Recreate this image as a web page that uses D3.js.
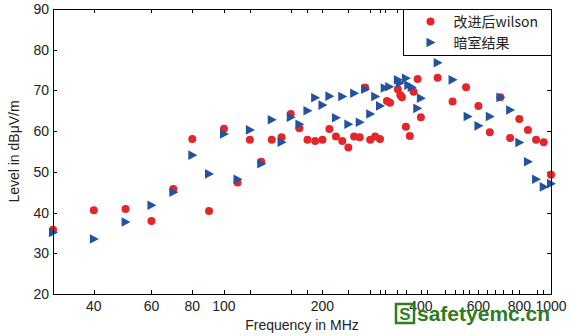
<!DOCTYPE html>
<html>
<head>
<meta charset="utf-8">
<script src="https://cdn.jsdelivr.net/npm/d3@7"></script>
<style>
  body { margin: 0; background: #fff; }
  svg { display: block; font-family: "Liberation Sans", Arial, sans-serif; }
</style>
</head>
<body>
<div id="chart"></div>
<script>
// data
const freqRed = [30, 40, 50, 60, 70, 80, 90, 100, 110, 120, 130, 140, 150, 160, 170, 180, 190, 200,
  210, 220, 230, 240, 250, 260, 270, 280, 290, 300, 315, 322, 340, 346, 350, 360, 370, 380, 391, 400,
  450, 500, 550, 600, 650, 700, 750, 800, 850, 900, 950, 1000];
const levelRed = [35.8, 40.6, 40.9, 37.9, 45.8, 58.1, 40.4, 60.6, 47.4, 57.9, 52.5, 57.9, 58.5, 64.2, 60.7, 57.9, 57.6, 57.9,
  60.5, 58.7, 57.6, 56.0, 58.7, 58.5, 70.7, 57.9, 58.7, 58.1, 67.4, 67.0, 70.3, 68.9, 68.3, 61.1, 58.8, 69.7, 72.8, 63.4,
  73.1, 67.3, 70.8, 66.2, 59.7, 68.3, 58.3, 63.0, 60.3, 57.9, 57.3, 49.3];

const freqBlue = [30, 40, 50, 60, 70, 80, 90, 100, 110, 120, 130, 140, 150, 160, 170, 180, 190, 200,
  210, 220, 230, 240, 250, 260, 270, 280, 290, 300, 310, 320, 340, 345, 360, 366, 375, 390, 400,
  450, 500, 556, 600, 650, 700, 750, 800, 850, 900, 950, 1000];
const levelBlue = [35.1, 33.5, 37.7, 41.8, 45.0, 54.1, 49.5, 59.3, 48.2, 60.3, 52.0, 62.8, 57.3, 63.4, 61.7, 65.0, 68.2, 66.4,
  68.6, 63.3, 68.5, 61.7, 69.3, 62.2, 70.3, 64.2, 68.5, 66.2, 70.6, 70.9, 72.6, 71.8, 73.0, 71.3, 70.8, 65.6, 68.1,
  76.8, 72.6, 63.6, 61.3, 63.6, 68.3, 65.2, 57.2, 52.5, 48.2, 46.3, 47.1];

const xTickLabels = [40, 60, 80, 100, 200, 400, 600, 800, 1000];
const xTickMarks = [40, 60, 80, 100, 120, 160, 180, 200, 240, 280, 300, 311, 338, 361, 400, 417, 475, 510,
  540, 563, 600, 637, 675, 715, 759, 800, 904, 946, 1000];
const yTicks = [20, 30, 40, 50, 60, 70, 80, 90];
const seriesNames = ["改进后wilson", "暗室结果"];

const width = 571, height = 336;
const margin = [9, 42, 53, 20]; // top, bottom, left, right
const red = "#e4262b", blue = "#22539e";

const svg = d3.select("#chart").append("svg")
  .attr("width", width).attr("height", height);

const x = d3.scaleLog([30, 1000], [margin[2], width - margin[3]]);
const y = d3.scaleLinear([20, 90], [height - margin[1], margin[0]]);
const x0 = x.range()[0], x1 = x.range()[1], y0 = y.range()[0], y1 = y.range()[1];

// inward tick marks on all four sides
const tickLen = 4;
const axes = svg.append("g").attr("stroke", "#000").attr("stroke-width", 1);
xTickMarks.forEach(t => {
  const px = Math.round(x(t)) + 0.5;
  axes.append("line").attr("x1", px).attr("x2", px).attr("y1", y0).attr("y2", y0 - tickLen);
  axes.append("line").attr("x1", px).attr("x2", px).attr("y1", y1).attr("y2", y1 + tickLen);
});
yTicks.forEach(t => {
  const py = Math.round(y(t)) + 0.5;
  axes.append("line").attr("x1", x0).attr("x2", x0 + tickLen).attr("y1", py).attr("y2", py);
  axes.append("line").attr("x1", x1).attr("x2", x1 - tickLen).attr("y1", py).attr("y2", py);
});

// tick labels
svg.append("g").selectAll("text").data(xTickLabels).join("text")
  .attr("x", d => x(d)).attr("y", y0 + 17)
  .attr("text-anchor", "middle").attr("font-size", 14).attr("fill", "#222")
  .text(d => d);
svg.append("g").selectAll("text").data(yTicks).join("text")
  .attr("x", x0 - 4).attr("y", d => y(d) + 5)
  .attr("text-anchor", "end").attr("font-size", 14).attr("fill", "#222")
  .text(d => d);

// axis titles
svg.append("text").attr("x", (x0 + x1) / 2).attr("y", 330)
  .attr("text-anchor", "middle").attr("font-size", 14).attr("fill", "#222")
  .text("Frequency in MHz");
svg.append("text").attr("transform", `translate(19,${(y0 + y1) / 2})rotate(-90)`)
  .attr("text-anchor", "middle").attr("font-size", 14).attr("fill", "#222")
  .text("Level in dBμV/m");

// markers
const tri = "M-4,-4.8L5,0L-4,4.8Z";
svg.append("g").selectAll("circle").data(d3.zip(freqRed, levelRed)).join("circle")
  .attr("cx", d => x(d[0])).attr("cy", d => y(d[1])).attr("r", 4)
  .attr("fill", red);
svg.append("g").selectAll("path").data(d3.zip(freqBlue, levelBlue)).join("path")
  .attr("transform", d => `translate(${x(d[0])},${y(d[1])})`)
  .attr("d", tri).attr("fill", blue);

// frame
svg.append("rect").attr("x", x0 + 0.5).attr("y", y1 + 0.5)
  .attr("width", x1 - x0).attr("height", y0 - y1)
  .attr("fill", "none").attr("stroke", "#000");

// legend
const lg = svg.append("g").attr("transform", "translate(403.5,9.5)");
lg.append("rect").attr("width", 148).attr("height", 46)
  .attr("fill", "#fff").attr("stroke", "#000");
lg.append("circle").attr("cx", 27).attr("cy", 12).attr("r", 4).attr("fill", red);
lg.append("path").attr("transform", "translate(27,33)").attr("d", tri).attr("fill", blue);
lg.selectAll("text.lbl").data(seriesNames).join("text")
  .attr("x", 50).attr("y", (d, i) => 17 + i * 21)
  .attr("font-size", 14).attr("fill", "#222")
  .attr("font-family", "'Noto Sans CJK SC', 'Liberation Sans', sans-serif")
  .text(d => d);

// watermark
const wm = svg.append("g").attr("fill", "#2f7d1f");
wm.append("rect").attr("x", 396).attr("y", 304).attr("width", 18).attr("height", 19)
  .attr("fill", "none").attr("stroke", "#2f7d1f").attr("stroke-width", 2.5);
wm.append("text").attr("x", 405).attr("y", 320).attr("text-anchor", "middle")
  .attr("font-size", 17).attr("font-weight", "bold").text("S");
wm.append("text").attr("x", 417).attr("y", 321)
  .attr("font-size", 21).attr("font-weight", "bold").text("safetyemc.cn");
</script>
</body>
</html>
